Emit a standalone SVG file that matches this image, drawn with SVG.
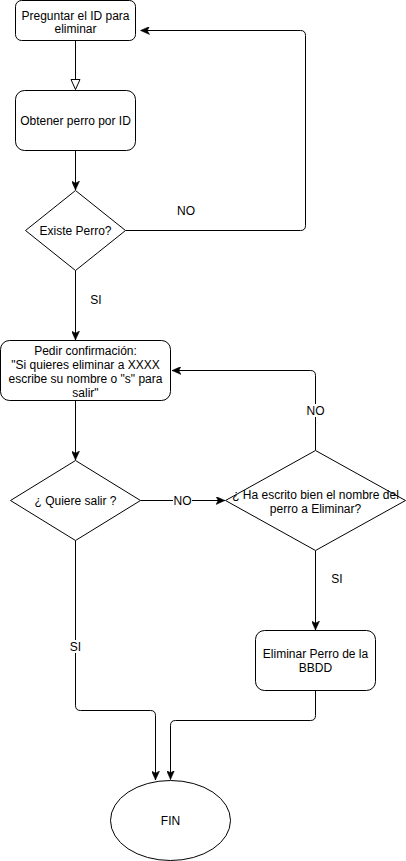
<svg xmlns="http://www.w3.org/2000/svg" width="406" height="861" viewBox="0 0 406 861">
<style>
.n{fill:#fff;stroke:#000;stroke-width:1}
.t{font-family:"Liberation Sans",Arial,Helvetica,sans-serif;font-size:12px;fill:#000;text-anchor:middle}
.e{fill:none;stroke:#000;stroke-width:1}
.bg{fill:#fff;stroke:none}
</style>
<defs>
<marker id="arr" markerUnits="userSpaceOnUse" viewBox="0 0 9 8" refX="9" refY="4" markerWidth="9" markerHeight="8" orient="auto">
<path d="M0,0 L9,4 L0,8 L2.2,4 Z" fill="#000" stroke="#000" stroke-width="0.5"/>
</marker>
<marker id="open" markerUnits="userSpaceOnUse" viewBox="-1 -1 12 11" refX="10" refY="4.5" markerWidth="12" markerHeight="11" orient="auto">
<path d="M0,0 L10,4.5 L0,9 Z" fill="#fff" stroke="#000" stroke-width="1"/>
</marker>
</defs>
<rect width="406" height="861" fill="#fff"/>
<g id="edges">
<path class="e" d="M75.5,40.5 L75.5,89.5" marker-end="url(#open)"/>
<path class="e" d="M75.5,150.5 L75.5,190" marker-end="url(#arr)"/>
<path class="e" d="M125.5,230.5 L300.5,230.5 Q305.5,230.5 305.5,225.5 L305.5,35.5 Q305.5,30.5 300.5,30.5 L140.5,30.5" marker-end="url(#arr)"/>
<path class="e" d="M75.5,270.5 L75.5,340" marker-end="url(#arr)"/>
<path class="e" d="M75.5,400.5 L75.5,460" marker-end="url(#arr)"/>
<path class="e" d="M140.5,500.5 L225,500.5" marker-end="url(#arr)"/>
<path class="e" d="M315.5,450.5 L315.5,375.5 Q315.5,370.5 310.5,370.5 L172,370.5" marker-end="url(#arr)"/>
<path class="e" d="M315.5,550.5 L315.5,630" marker-end="url(#arr)"/>
<path class="e" d="M315.5,690.5 L315.5,715.5 Q315.5,720.5 310.5,720.5 L175.5,720.5 Q170.5,720.5 170.5,725.5 L170.5,779.5" marker-end="url(#arr)"/>
<path class="e" d="M75.5,540.5 L75.5,705.5 Q75.5,710.5 80.5,710.5 L150.5,710.5 Q155.5,710.5 155.5,715.5 L155.5,780" marker-end="url(#arr)"/>
</g>
<g id="labels">
<text class="t" x="186" y="215">NO</text>
<text class="t" x="96" y="304">SI</text>
<rect class="bg" x="173" y="494" width="19" height="13"/>
<text class="t" x="182.5" y="504.5">NO</text>
<rect class="bg" x="306" y="404" width="19" height="13"/>
<text class="t" x="315.5" y="414.5">NO</text>
<text class="t" x="337" y="583">SI</text>
<rect class="bg" x="69" y="640" width="13" height="13"/>
<text class="t" x="75.5" y="650.5">SI</text>
</g>
<g id="n1">
<rect class="n" x="15.5" y="0.5" width="120" height="40" rx="6"/>
<text class="t" x="75.5" y="19.5">Preguntar el ID para</text>
<text class="t" x="75.5" y="33">eliminar</text>
</g>
<g id="n2">
<rect class="n" x="15.5" y="90.5" width="120" height="60" rx="9"/>
<text class="t" x="75.5" y="124.5">Obtener perro por ID</text>
</g>
<g id="d1">
<polygon class="n" points="75.5,190.5 125.5,230.5 75.5,270.5 25.5,230.5"/>
<text class="t" x="75.5" y="234.5">Existe Perro?</text>
</g>
<g id="n3">
<rect class="n" x="0.5" y="340.5" width="170" height="60" rx="9"/>
<text class="t" x="85.5" y="355">Pedir confirmación:</text>
<text class="t" x="85.5" y="369">"Si quieres eliminar a XXXX</text>
<text class="t" x="85.5" y="383">escribe su nombre o "s" para</text>
<text class="t" x="85.5" y="397">salir"</text>
</g>
<g id="d2">
<polygon class="n" points="75.5,460.5 140.5,500.5 75.5,540.5 10.5,500.5"/>
<text class="t" x="75.5" y="504.5">¿ Quiere salir ?</text>
</g>
<g id="d3">
<polygon class="n" points="315.5,450.5 405.5,500.5 315.5,550.5 225.5,500.5"/>
<text class="t" x="315.5" y="498.5">¿ Ha escrito bien el nombre del</text>
<text class="t" x="315.5" y="512.5">perro a Eliminar?</text>
</g>
<g id="n4">
<rect class="n" x="255.5" y="630.5" width="120" height="60" rx="9"/>
<text class="t" x="315.5" y="658">Eliminar Perro de la</text>
<text class="t" x="315.5" y="672">BBDD</text>
</g>
<g id="fin">
<ellipse class="n" cx="170.5" cy="820.5" rx="60" ry="40"/>
<text class="t" x="170.5" y="824.5">FIN</text>
</g>
</svg>
